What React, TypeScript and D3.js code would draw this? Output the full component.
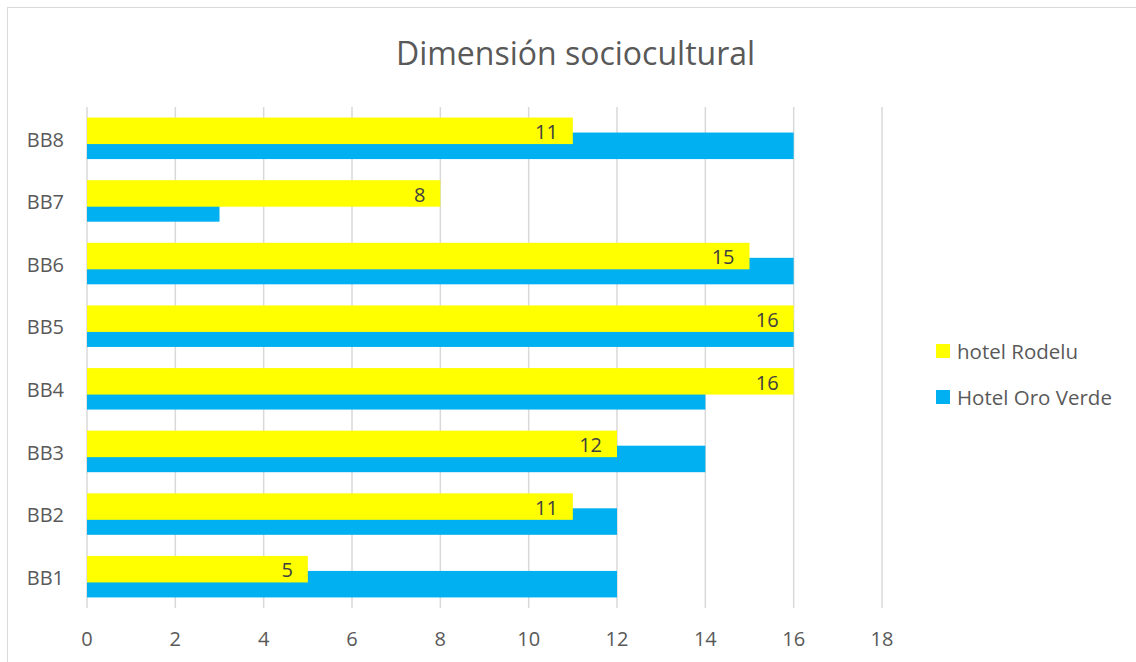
import React from "react";
import * as d3 from "d3";

const categories = ["BB1", "BB2", "BB3", "BB4", "BB5", "BB6", "BB7", "BB8"];
const rodelu = [5, 11, 12, 16, 16, 15, 8, 11];
const oroVerde = [12, 12, 14, 14, 16, 16, 3, 16];
const xTicks = [0, 2, 4, 6, 8, 10, 12, 14, 16, 18];
const seriesNames = ["hotel Rodelu", "Hotel Oro Verde"];
const colors = ["#FFFF00", "#00B0F0"];

export default function App() {
  const W = 1136, H = 662;
  const left = 87, right = 882, top = 107, bottom = 608;
  const x = d3.scaleLinear().domain([0, 18]).range([left, right]);
  const y = d3.scaleBand().domain([...categories].reverse()).range([top, bottom]);
  const barH = 26.5;
  const offset = 15;
  const font = "'Open Sans', 'Liberation Sans', sans-serif";
  return (
    <svg width={W} height={H} style={{ position: "absolute", left: 0, top: 0, background: "#fff" }}>
      <rect x={7.5} y={7.5} width={1200} height={700} fill="#fff" stroke="#d9d9d9" />
      <text x={575.5} y={64.5} textAnchor="middle" fontFamily={font} fontSize={32} fill="#595959">
        Dimensión sociocultural
      </text>
      {xTicks.map((t) => (
        <g key={t}>
          <line x1={x(t)} x2={x(t)} y1={top} y2={bottom} stroke="#d9d9d9" strokeWidth={1.5} />
          <text x={x(t)} y={646} textAnchor="middle" fontFamily={font} fontSize={20} fill="#595959">
            {t}
          </text>
        </g>
      ))}
      {categories.map((c, i) => {
        const cy = (y(c) as number) + y.bandwidth() / 2;
        const groupTop = cy - (barH + offset) / 2;
        return (
          <g key={c}>
            <rect x={x(0)} y={groupTop + offset} width={x(oroVerde[i]) - x(0)} height={barH} fill={colors[1]} />
            <rect x={x(0)} y={groupTop} width={x(rodelu[i]) - x(0)} height={barH} fill={colors[0]} />
            <text x={x(rodelu[i]) - 15} y={groupTop + barH / 2 + 8.3} textAnchor="end" fontFamily={font} fontSize={20} fill="#404040">
              {rodelu[i]}
            </text>
            <text x={64} y={cy + 8.2} textAnchor="end" fontFamily={font} fontSize={20} fill="#595959">
              {c}
            </text>
          </g>
        );
      })}
      {seriesNames.map((s, i) => (
        <g key={s}>
          <rect x={936} y={344 + i * 46} width={14} height={14} fill={colors[i]} />
          <text x={957} y={358.5 + i * 46} fontFamily={font} fontSize={20.5} fill="#595959">
            {s}
          </text>
        </g>
      ))}
    </svg>
  );
}
